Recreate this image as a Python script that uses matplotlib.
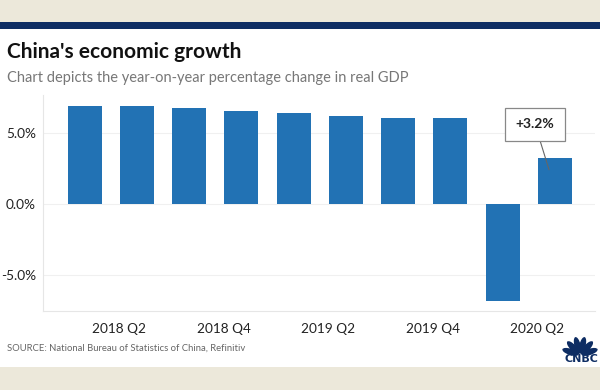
import matplotlib.pyplot as plt
import numpy as np
from matplotlib.patches import Ellipse, Rectangle

plt.rcParams['font.family'] = ['Lato', 'DejaVu Sans']

quarters = ["2018 Q1", "2018 Q2", "2018 Q3", "2018 Q4", "2019 Q1",
            "2019 Q2", "2019 Q3", "2019 Q4", "2020 Q1", "2020 Q2"]
gdp_growth = [6.9, 6.9, 6.7, 6.5, 6.4, 6.2, 6.0, 6.0, -6.8, 3.2]
yticks = [-5, 0, 5]
ytick_labels = ["-5.0%", "0.0%", "5.0%"]
xtick_labels = ["2018 Q2", "2018 Q4", "2019 Q2", "2019 Q4", "2020 Q2"]

bar_color = "#2272b4"
beige = "#ece8da"
navy = "#0e2d63"

fig = plt.figure(figsize=(6, 3.9), dpi=100)

# header / footer bands
fig.add_artist(Rectangle((0, 1 - 22 / 390), 1, 22 / 390, transform=fig.transFigure,
                         color=beige, lw=0))
fig.add_artist(Rectangle((0, 1 - 29 / 390), 1, 7 / 390, transform=fig.transFigure,
                         color=navy, lw=0))
fig.add_artist(Rectangle((0, 0), 1, 23 / 390, transform=fig.transFigure,
                         color=beige, lw=0))

fig.text(7 / 600, 1 - 52 / 390, "China's economic growth", fontsize=15,
         fontweight="bold", color="#111111", va="center", ha="left")
fig.text(7 / 600, 1 - 78 / 390,
         "Chart depicts the year-on-year percentage change in real GDP",
         fontsize=10.5, color="#777777", va="center", ha="left")
fig.text(7 / 600, 1 - 348 / 390,
         "SOURCE: National Bureau of Statistics of China, Refinitiv",
         fontsize=6.8, color="#666666", va="center", ha="left")

ax = fig.add_axes([43 / 600, 1 - 310.7 / 390, 552 / 600, (310.7 - 95) / 390])
x = np.arange(len(quarters))
ax.bar(x, gdp_growth, width=0.65, color=bar_color, zorder=3)

ax.set_xlim(-0.80, 9.77)
ax.set_ylim(-7.48, 7.64)
ax.set_yticks(yticks)
ax.set_yticklabels(ytick_labels)
q2_idx = [quarters.index(q) for q in xtick_labels]
ax.set_xticks([i - 0.34 for i in q2_idx])
ax.set_xticklabels(xtick_labels)
ax.tick_params(axis="both", length=0, labelsize=9.8, labelcolor="#222222")
ax.tick_params(axis="x", pad=9)
ax.tick_params(axis="y", pad=5)
ax.grid(axis="y", color="#f0f0f0", lw=0.8, zorder=0)
for s in ["top", "right"]:
    ax.spines[s].set_visible(False)
ax.spines["left"].set_color("#e6e6e6")
ax.spines["bottom"].set_color("#e6e6e6")

last = len(quarters) - 1
ax.annotate(f"+{gdp_growth[last]:.1f}%", xy=(last - 0.11, 2.4), xytext=(last - 0.38, 5.6),
            fontsize=10, fontweight="bold", color="#222222", ha="center", va="center",
            bbox=dict(boxstyle="square,pad=0.75", fc="white", ec="#888888", lw=0.9),
            arrowprops=dict(arrowstyle="-", color="#666666", lw=0.8,
                            shrinkA=0, shrinkB=0), zorder=5)

# small peacock logo (pixel units, bottom-right corner)
lax = fig.add_axes([550 / 600, 0, 50 / 600, 65 / 390], zorder=5)
lax.set_xlim(550, 600)
lax.set_ylim(0, 65)
lax.axis("off")
for ang in np.linspace(162, 18, 6):
    r = np.deg2rad(ang)
    lax.add_patch(Ellipse((580 + 10 * np.cos(r), 35 + 10 * np.sin(r)), 6.3, 17,
                          angle=ang - 90, color=navy, lw=0))
lax.text(581, 30.5, "CNBC", fontsize=8, fontweight="heavy", color=navy,
         ha="center", va="center", family="DejaVu Sans")

fig.savefig("out.png", dpi=100)
